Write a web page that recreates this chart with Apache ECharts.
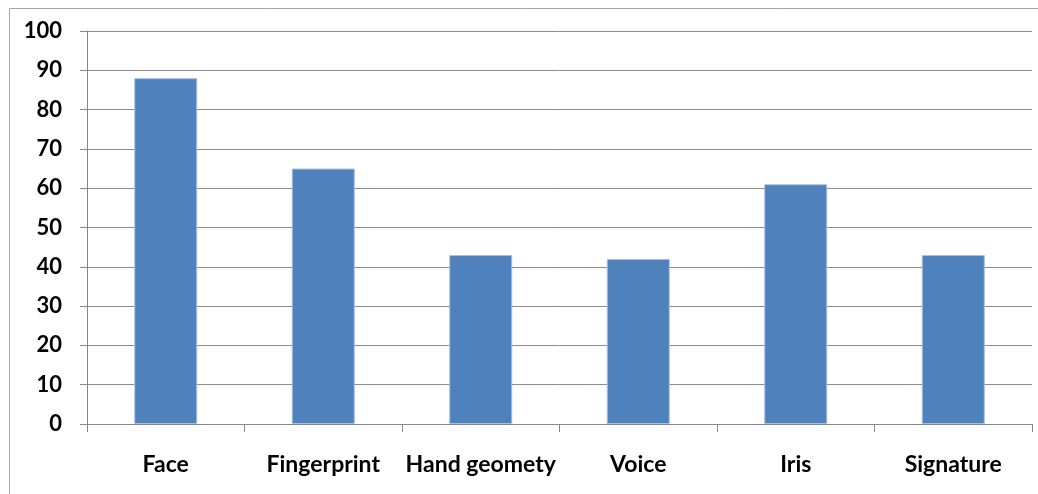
<!DOCTYPE html>
<html>
<head>
<meta charset="utf-8">
<script src="https://cdn.jsdelivr.net/npm/echarts@6/dist/echarts.min.js"></script>
<style>
html,body{margin:0;padding:0;background:#fff;}
#chart{width:1038px;height:494px;}
</style>
</head>
<body>
<div id="chart"></div>
<script>
var categories = ['Face', 'Fingerprint', 'Hand geomety', 'Voice', 'Iris', 'Signature'];
var values = [88, 65, 43, 42, 61, 43];
var yTicks = { min: 0, max: 100, interval: 10 };

var chart = echarts.init(document.getElementById('chart'), null, { renderer: 'canvas' });
var font = 'Lato, "Open Sans", sans-serif';
chart.setOption({
  animation: false,
  backgroundColor: '#ffffff',
  grid: { left: 87, right: 6, top: 31, bottom: 70, containLabel: false },
  graphic: [
    { type: 'polyline', silent: true, shape: { points: [[9.5, 494], [9.5, 8.5], [1038, 8.5]] },
      style: { stroke: '#a6a6a6', lineWidth: 1, fill: null } }
  ],
  xAxis: {
    type: 'category',
    data: categories,
    boundaryGap: true,
    axisLine: { show: true, lineStyle: { color: '#868686', width: 1 } },
    axisTick: { show: true, length: 8, lineStyle: { color: '#868686' }, alignWithLabel: false },
    axisLabel: { color: '#000', fontFamily: font, fontWeight: 'bold', fontSize: 23, margin: 29, interval: 0 }
  },
  yAxis: {
    type: 'value',
    min: yTicks.min, max: yTicks.max, interval: yTicks.interval,
    axisLine: { show: true, lineStyle: { color: '#868686', width: 1 } },
    axisTick: { show: true, length: 7, lineStyle: { color: '#868686' } },
    splitLine: { show: true, lineStyle: { color: '#8c8c8c', width: 1 } },
    axisLabel: { color: '#000', fontFamily: font, fontWeight: 'bold', fontSize: 22, margin: 25 }
  },
  series: [{
    type: 'bar',
    data: values,
    barWidth: 63,
    itemStyle: { color: '#4F81BD', borderColor: '#a7bfe0', borderWidth: 1 }
  }]
});
</script>
</body>
</html>
